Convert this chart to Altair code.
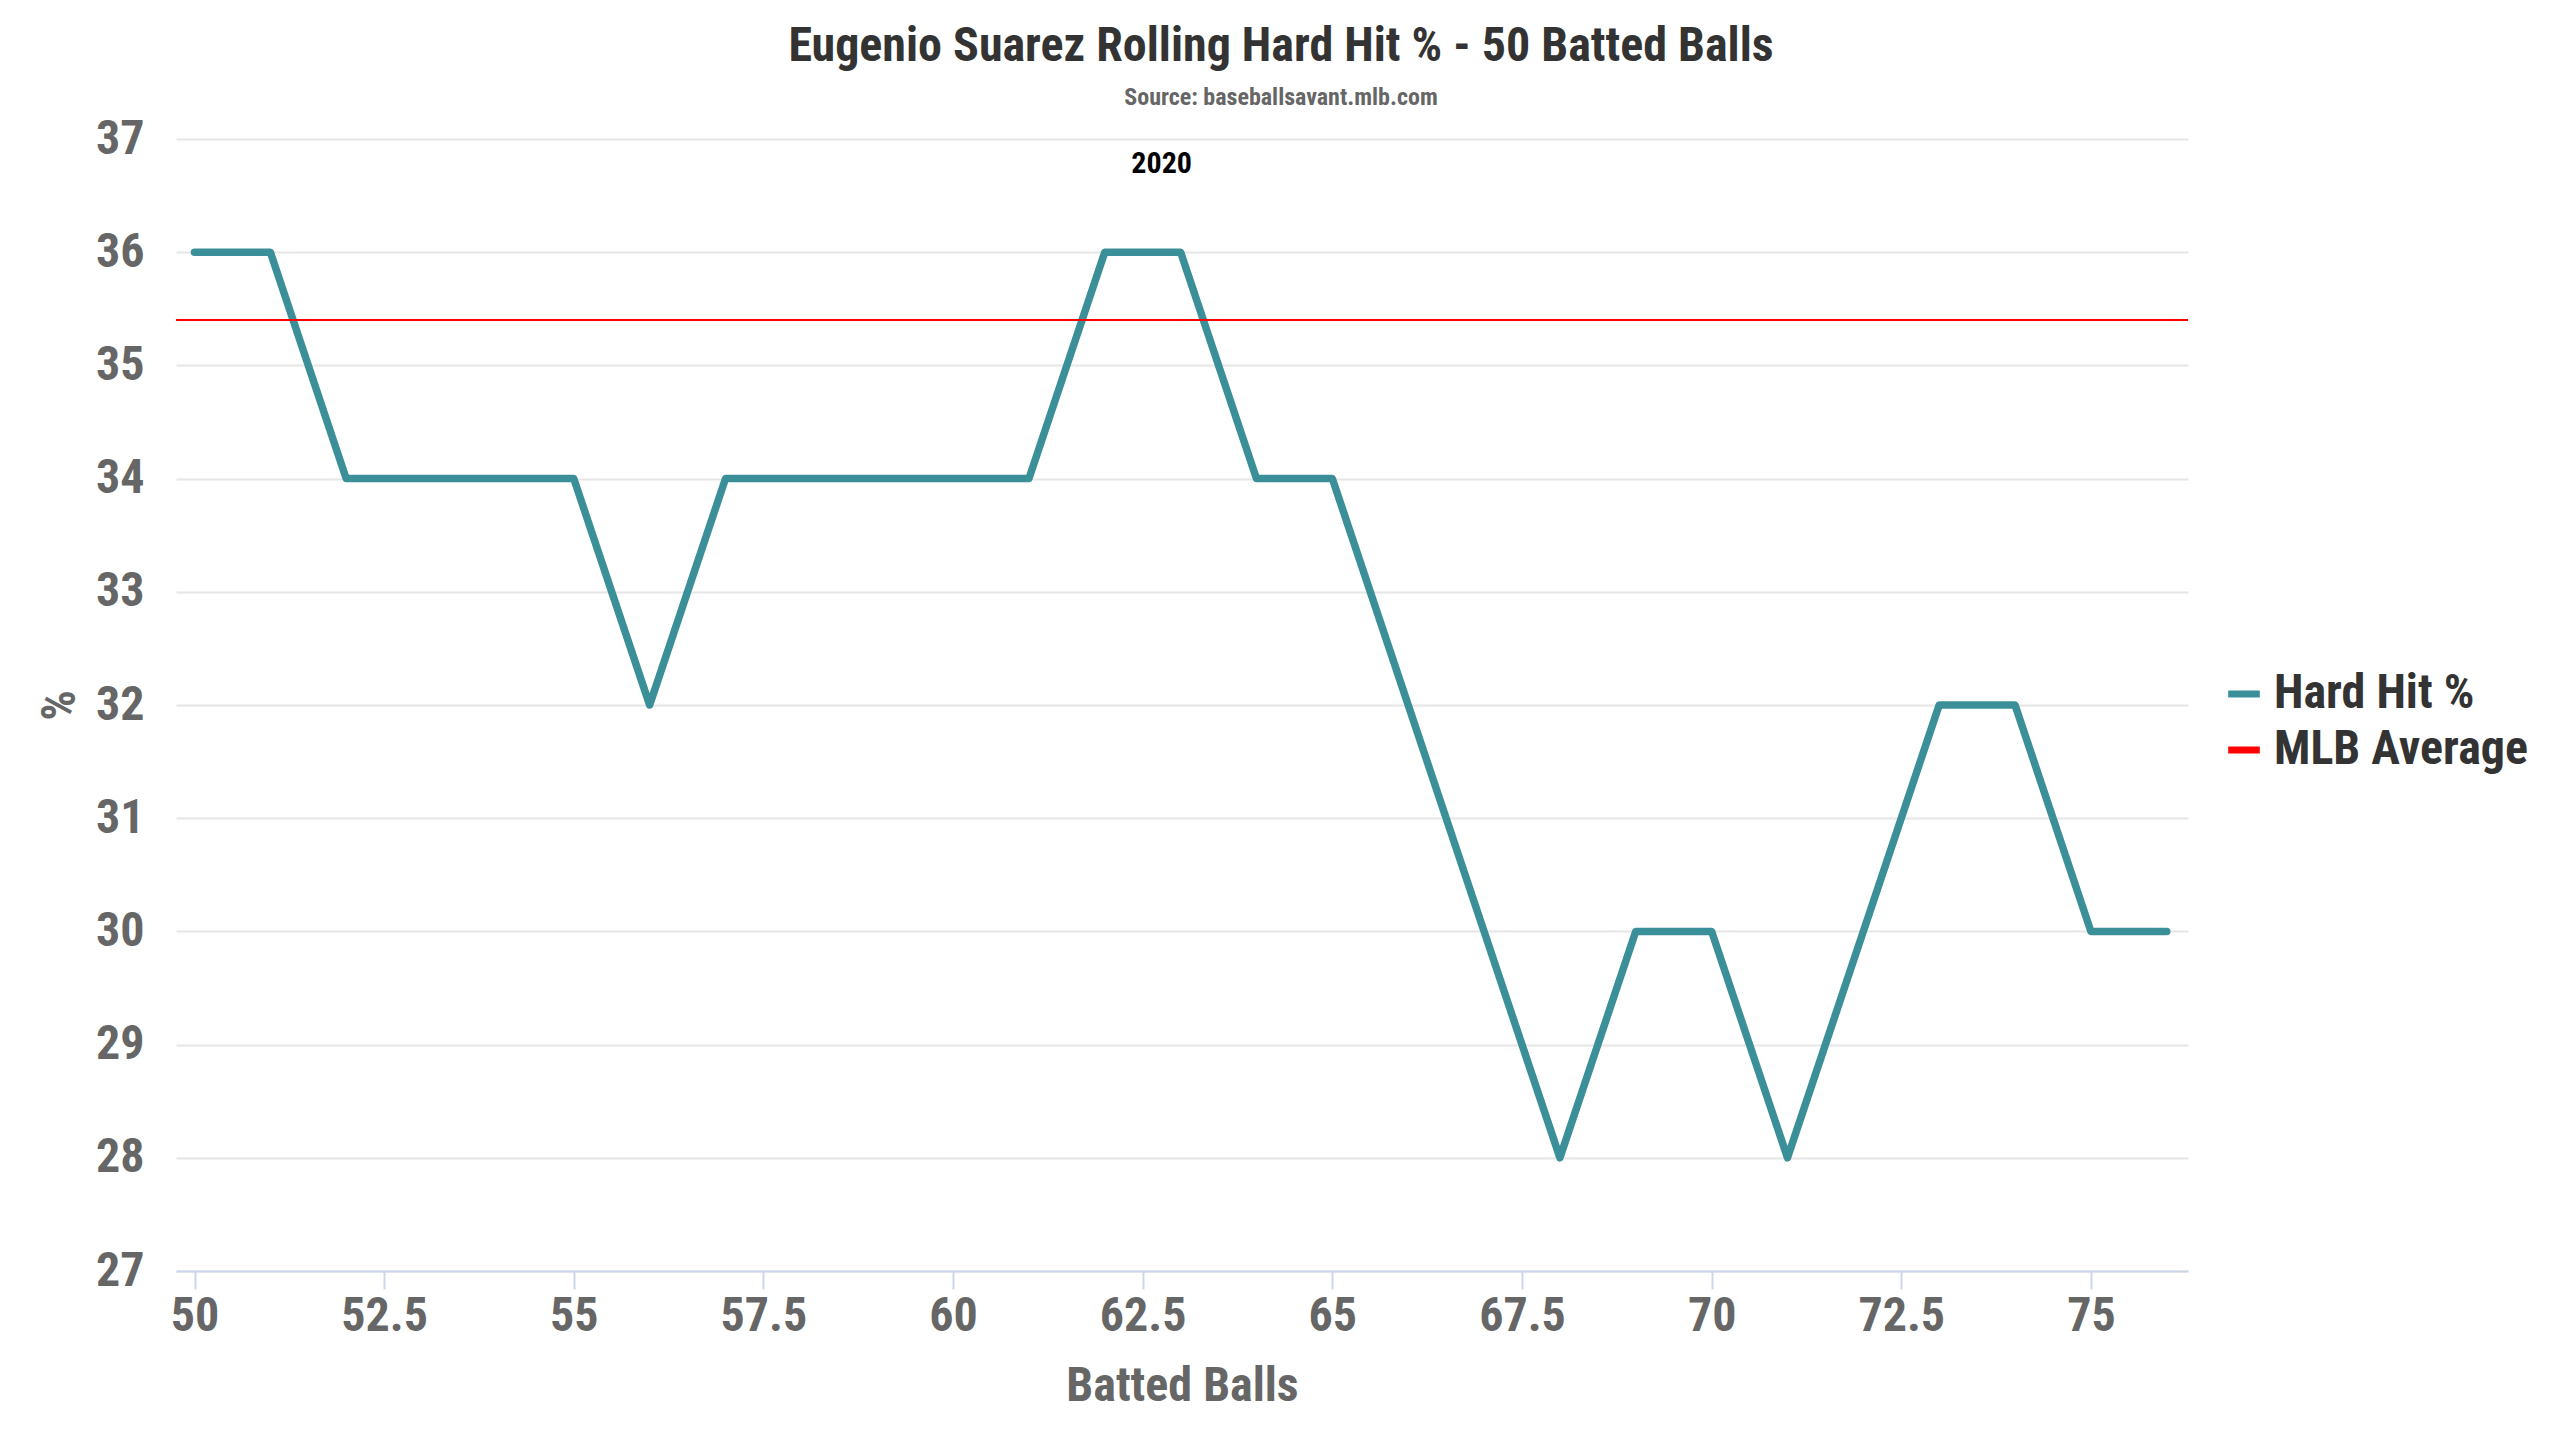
import altair as alt
import pandas as pd

# ---- data ----
batted_balls = list(range(50, 77))
hard_hit_pct = [36, 36, 34, 34, 34, 34, 32, 34, 34, 34, 34, 34, 36, 36, 34, 34,
                32, 30, 28, 30, 30, 28, 30, 32, 32, 30, 30]
mlb_average = [35.4]
series_names = ["Hard Hit %", "MLB Average"]
series_colors = ["#3a8f98", "#ff0000"]
x_ticks = [50, 52.5, 55, 57.5, 60, 62.5, 65, 67.5, 70, 72.5, 75]
y_ticks = list(range(27, 38))
band_labels = ["2020"]
band_centers = [62.75]
band_tops = [37]

FONT = "Roboto Condensed, Liberation Sans Narrow, Roboto"

line_df = pd.DataFrame({"balls": batted_balls, "pct": hard_hit_pct,
                        "series": series_names[0]})
avg_df = pd.DataFrame({"pct": mlb_average, "series": series_names[1]})
band_df = pd.DataFrame({"balls": band_centers, "pct": band_tops, "label": band_labels})

color = alt.Color(
    "series:N",
    scale=alt.Scale(domain=series_names, range=series_colors),
    legend=alt.Legend(
        orient="none", legendX=2044, legendY=531, title=None,
        symbolType="stroke", symbolStrokeWidth=7, symbolSize=1000,
        labelFont=FONT, labelFontSize=48, labelFontWeight="bold",
        labelColor="#333333", labelOffset=6, rowPadding=8, padding=0,
        labelLimit=0,
    ),
)

x_enc = alt.X(
    "balls:Q",
    scale=alt.Scale(domain=[49.756, 76.28], nice=False, zero=False),
    axis=alt.Axis(
        values=x_ticks, format="~g", title="Batted Balls", grid=False,
        domainColor="#ccd6eb", domainWidth=2, tickColor="#ccd6eb", tickWidth=2,
        tickSize=18, labelFont=FONT, labelFontSize=48, labelFontWeight="bold",
        labelColor="#666666", labelPadding=3, labelFlush=False,
        titleFont=FONT, titleFontSize=48, titleFontWeight="bold",
        titleColor="#666666", titlePadding=22,
    ),
)

y_enc = alt.Y(
    "pct:Q",
    scale=alt.Scale(domain=[27, 37], nice=False, zero=False),
    axis=alt.Axis(
        values=y_ticks, format="d", title="%", domain=False, ticks=False, tickSize=0,
        gridColor="#e6e6e6", gridWidth=2, labelFont=FONT, labelFontSize=48,
        labelFontWeight="bold", labelColor="#666666", labelPadding=32,
        labelFlush=False,
        titleFont=FONT, titleFontSize=48, titleFontWeight="bold",
        titleColor="#666666", titleAngle=270, titleX=-116, titleY=566,
        titleAlign="center", titleBaseline="middle",
    ),
)

line = alt.Chart(line_df).mark_line(
    strokeWidth=7.5, strokeCap="round", strokeJoin="round"
).encode(x=x_enc, y=y_enc, color=color)

avg = alt.Chart(avg_df).mark_rule(strokeWidth=2).encode(y="pct:Q", color=color)

band_text = alt.Chart(band_df).mark_text(
    font=FONT, fontSize=30, fontWeight="bold", color="#000000",
    align="center", baseline="alphabetic", dy=34,
).encode(x="balls:Q", y="pct:Q", text="label:N")

chart = alt.layer(line, avg, band_text).properties(
    width=2012,
    height=1132,
    title=alt.TitleParams(
        text="Eugenio Suarez Rolling Hard Hit % - 50 Batted Balls",
        subtitle="Source: baseballsavant.mlb.com",
        font=FONT, fontSize=48, fontWeight="bold", color="#333333",
        subtitleFont=FONT, subtitleFontSize=24, subtitleFontWeight="bold",
        subtitleColor="#666666", subtitlePadding=15,
        anchor="middle", frame="group", dx=99, offset=5,
    ),
    autosize=alt.AutoSizeParams(type="none"),
    padding={"left": 168, "top": 131, "right": 360, "bottom": 155},
    background="#ffffff",
).configure_view(stroke=None)

chart.save("out.html", embed_options={"renderer": "svg", "actions": False})
